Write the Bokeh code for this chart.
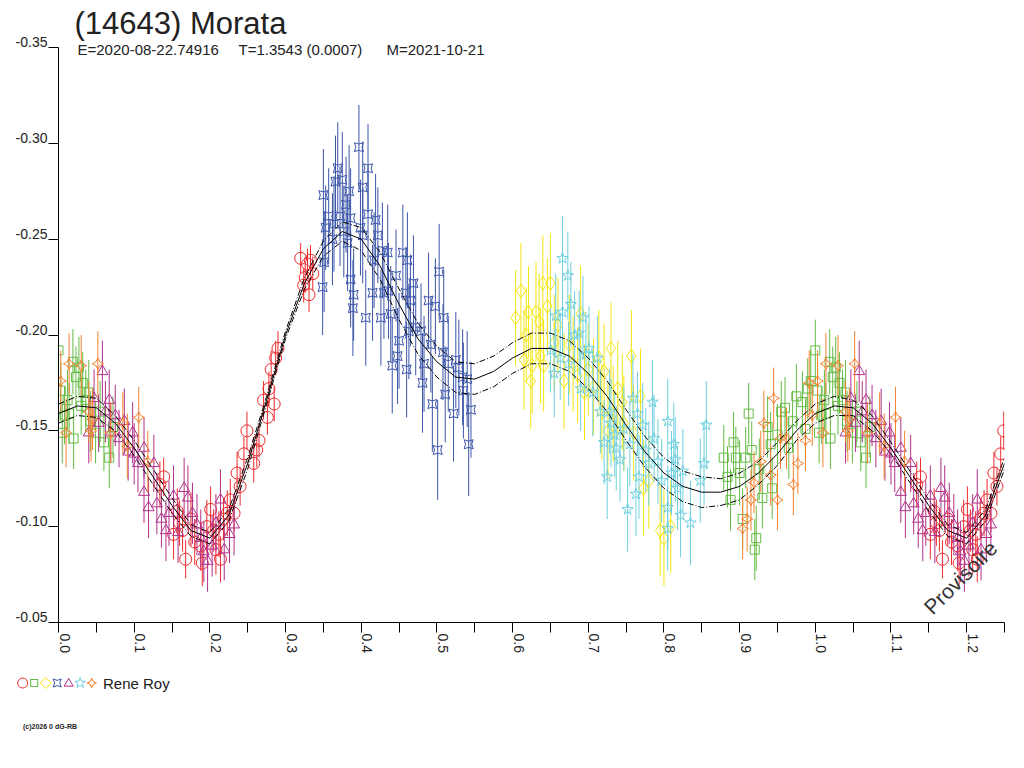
import math
import numpy as np
from bokeh.plotting import figure
from bokeh.models import (Range1d, FixedTicker, NumeralTickFormatter, CustomJSTickFormatter,
                          Label, ColumnDataSource, LinearAxis, Div)
from bokeh.layouts import column
from bokeh.embed import file_html
from bokeh.resources import INLINE

FONT = "Liberation Sans"

# ---------------- texts ----------------
title_text = "(14643) Morata"
subtitle_parts = ["E=2020-08-22.74916", "T=1.3543 (0.0007)", "M=2021-10-21"]
observer = "Rene Roy"
copyright_text = "(c)2026 0 dG-RB"
stamp_text = "Provisoire"

# ---------------- axes ----------------
x_ticks = [0.0, 0.1, 0.2, 0.3, 0.4, 0.5, 0.6, 0.7, 0.8, 0.9, 1.0, 1.1, 1.2]
x_minor = [0.05, 0.15, 0.25, 0.35, 0.45, 0.55, 0.65, 0.75, 0.85, 0.95, 1.05, 1.15, 1.25]
y_ticks = [-0.35, -0.30, -0.25, -0.20, -0.15, -0.10, -0.05]

# ---------------- fitted curve ----------------
fit_phase = [0.000, 0.025, 0.050, 0.075, 0.100, 0.125, 0.150, 0.175, 0.200, 0.225,
             0.250, 0.275, 0.300, 0.325, 0.350, 0.375, 0.400, 0.425, 0.450, 0.475,
             0.500, 0.525, 0.550, 0.575, 0.600, 0.625, 0.650, 0.675, 0.700, 0.725,
             0.750, 0.775, 0.800, 0.825, 0.850, 0.875, 0.900, 0.925, 0.950, 0.975,
             1.000, 1.025, 1.050, 1.075, 1.100, 1.125, 1.150, 1.175, 1.200, 1.225, 1.250]
fit_mag = [-0.159, -0.163, -0.162, -0.154, -0.141, -0.126, -0.111, -0.098, -0.094, -0.106,
           -0.133, -0.166, -0.200, -0.227, -0.245, -0.254, -0.250, -0.236, -0.216, -0.198,
           -0.186, -0.178, -0.177, -0.181, -0.188, -0.193, -0.193, -0.189, -0.180, -0.168,
           -0.153, -0.139, -0.128, -0.121, -0.118, -0.118, -0.121, -0.128, -0.138, -0.150,
           -0.159, -0.163, -0.162, -0.154, -0.141, -0.126, -0.111, -0.098, -0.094, -0.106, -0.133]
fit_spread = [0.005, 0.005, 0.005, 0.004, 0.004, 0.004, 0.004, 0.003, 0.003, 0.003,
              0.003, 0.002, 0.002, 0.003, 0.004, 0.005, 0.006, 0.007, 0.008, 0.008,
              0.008, 0.008, 0.008, 0.008, 0.008, 0.008, 0.008, 0.008, 0.008, 0.008,
              0.008, 0.008, 0.008, 0.008, 0.008, 0.007, 0.007, 0.006, 0.006, 0.005,
              0.005, 0.005, 0.004, 0.004, 0.003, 0.003, 0.003, 0.003, 0.003, 0.003, 0.003]

# ---------------- observations (phase, mag, error) ----------------
red_x = [0.134, 0.139, 0.152, 0.157, 0.160, 0.164, 0.168, 0.175, 0.180, 0.188, 0.190, 0.196,
         0.201, 0.205, 0.208, 0.212, 0.214, 0.218, 0.223, 0.227, 0.232, 0.236, 0.240, 0.245,
         0.249, 0.258, 0.262, 0.265, 0.271, 0.276, 0.278, 0.281, 0.285, 0.287, 0.290,
         0.320, 0.324, 0.326, 0.329, 0.331, 0.333, 0.336]
red_y = [-0.122, -0.126, -0.096, -0.108, -0.102, -0.098, -0.083, -0.104, -0.092, -0.090, -0.081, -0.100,
         -0.109, -0.098, -0.088, -0.096, -0.083, -0.104, -0.107, -0.114, -0.107, -0.128, -0.121, -0.138,
         -0.150, -0.133, -0.140, -0.145, -0.166, -0.157, -0.172, -0.182, -0.164, -0.188, -0.193,
         -0.240, -0.226, -0.230, -0.237, -0.221, -0.239, -0.232]
red_e = [0.012, 0.010, 0.013, 0.012, 0.012, 0.011, 0.010, 0.014, 0.012, 0.013, 0.012, 0.014,
         0.012, 0.011, 0.013, 0.012, 0.012, 0.011, 0.012, 0.011, 0.010, 0.011, 0.010, 0.009,
         0.010, 0.010, 0.009, 0.009, 0.010, 0.009, 0.009, 0.010, 0.009, 0.009, 0.009,
         0.008, 0.009, 0.008, 0.008, 0.009, 0.008, 0.009]

green_x = [0.000, 0.003, 0.005, 0.008, 0.012, 0.014, 0.019, 0.020, 0.023, 0.027, 0.030, 0.032,
           0.036, 0.040, 0.042, 0.049, 0.055, 0.060, 0.067, 0.072,
           0.879, 0.884, 0.888, 0.892, 0.895, 0.900, 0.904, 0.908, 0.912, 0.916, 0.920, 0.922,
           0.926, 0.930, 0.937, 0.941, 0.943, 0.950, 0.955, 0.960, 0.965, 0.970, 0.975, 0.983,
           0.987, 0.990, 0.994]
green_y = [-0.192, -0.171, -0.149, -0.158, -0.166, -0.159, -0.186, -0.146, -0.178, -0.183, -0.163, -0.175,
           -0.166, -0.170, -0.155, -0.149, -0.160, -0.144, -0.136, -0.152,
           -0.136, -0.126, -0.114, -0.144, -0.136, -0.128, -0.104, -0.136, -0.159, -0.140, -0.088, -0.094,
           -0.130, -0.115, -0.152, -0.143, -0.120, -0.148, -0.160, -0.162, -0.141, -0.155, -0.168, -0.165,
           -0.151, -0.172, -0.176]
green_e = [0.016, 0.015, 0.016, 0.015, 0.016, 0.016, 0.017, 0.016, 0.016, 0.016, 0.015, 0.016,
           0.016, 0.017, 0.016, 0.016, 0.016, 0.015, 0.016, 0.016,
           0.017, 0.016, 0.016, 0.016, 0.016, 0.017, 0.016, 0.016, 0.016, 0.015, 0.016, 0.017,
           0.016, 0.016, 0.016, 0.017, 0.016, 0.016, 0.016, 0.016, 0.016, 0.016, 0.017, 0.016,
           0.016, 0.016, 0.016]

yellow_x = [0.604, 0.611, 0.615, 0.618, 0.621, 0.624, 0.626, 0.631, 0.635, 0.637, 0.640, 0.641,
            0.646, 0.650, 0.655, 0.660, 0.668, 0.675, 0.680, 0.686, 0.690, 0.695, 0.700, 0.707,
            0.714, 0.718, 0.721, 0.726, 0.730, 0.733, 0.739, 0.745, 0.747, 0.757, 0.760, 0.769,
            0.773, 0.780, 0.795, 0.800, 0.809]
yellow_y = [-0.209, -0.223, -0.187, -0.200, -0.212, -0.176, -0.184, -0.212, -0.207, -0.189, -0.227, -0.184,
            -0.215, -0.227, -0.196, -0.205, -0.176, -0.195, -0.185, -0.179, -0.211, -0.170, -0.182, -0.173,
            -0.188, -0.160, -0.181, -0.150, -0.193, -0.159, -0.172, -0.165, -0.154, -0.189, -0.149, -0.168,
            -0.120, -0.124, -0.098, -0.094, -0.100]
yellow_e = [0.025, 0.025, 0.026, 0.025, 0.024, 0.025, 0.025, 0.026, 0.025, 0.025, 0.025, 0.024,
            0.025, 0.026, 0.025, 0.025, 0.025, 0.026, 0.025, 0.025, 0.025, 0.025, 0.024, 0.025,
            0.025, 0.025, 0.025, 0.025, 0.024, 0.025, 0.025, 0.025, 0.025, 0.024, 0.025, 0.025,
            0.025, 0.025, 0.024, 0.025, 0.024]

blue_x = [0.349, 0.350, 0.351, 0.353, 0.357, 0.362, 0.364, 0.366, 0.369, 0.372, 0.375, 0.377,
          0.380, 0.382, 0.384, 0.386, 0.386, 0.389, 0.390, 0.397, 0.399, 0.402, 0.402, 0.406,
          0.409, 0.409, 0.415, 0.417, 0.419, 0.422, 0.426, 0.428, 0.430, 0.435, 0.436, 0.439,
          0.441, 0.446, 0.448, 0.450, 0.455, 0.459, 0.460, 0.461, 0.463, 0.465, 0.469, 0.472,
          0.479, 0.481, 0.483, 0.489, 0.492, 0.494, 0.498, 0.501, 0.503, 0.508, 0.509, 0.511,
          0.515, 0.522, 0.525, 0.529, 0.534, 0.535, 0.540, 0.542, 0.545]
blue_y = [-0.225, -0.273, -0.238, -0.256, -0.262, -0.250, -0.258, -0.280, -0.287, -0.262, -0.281, -0.254,
          -0.268, -0.248, -0.275, -0.261, -0.229, -0.214, -0.221, -0.298, -0.256, -0.277, -0.252, -0.209,
          -0.287, -0.263, -0.222, -0.239, -0.260, -0.252, -0.209, -0.244, -0.222, -0.243, -0.223, -0.211,
          -0.184, -0.231, -0.189, -0.197, -0.243, -0.222, -0.182, -0.239, -0.202, -0.218, -0.227, -0.204,
          -0.202, -0.175, -0.185, -0.218, -0.195, -0.164, -0.215, -0.140, -0.233, -0.191, -0.209, -0.169,
          -0.185, -0.159, -0.187, -0.183, -0.178, -0.171, -0.177, -0.143, -0.161]
blue_e = [0.025, 0.024, 0.026, 0.022, 0.025, 0.024, 0.025, 0.024, 0.024, 0.026, 0.025, 0.024,
          0.025, 0.025, 0.024, 0.026, 0.025, 0.025, 0.024, 0.022, 0.025, 0.024, 0.025, 0.025,
          0.023, 0.025, 0.025, 0.025, 0.024, 0.025, 0.025, 0.025, 0.024, 0.025, 0.025, 0.025,
          0.025, 0.024, 0.025, 0.025, 0.025, 0.024, 0.025, 0.025, 0.025, 0.024, 0.025, 0.025,
          0.025, 0.026, 0.025, 0.025, 0.025, 0.025, 0.025, 0.026, 0.025, 0.025, 0.025, 0.025,
          0.025, 0.025, 0.025, 0.025, 0.025, 0.025, 0.025, 0.027, 0.025]

purple_x = [0.040, 0.047, 0.053, 0.058, 0.062, 0.067, 0.069, 0.075, 0.080, 0.087, 0.092, 0.098,
            0.100, 0.105, 0.113, 0.113, 0.119, 0.126, 0.130, 0.136, 0.142, 0.146, 0.152, 0.158,
            0.166, 0.171, 0.177, 0.183, 0.188, 0.192, 0.197, 0.203, 0.208, 0.214, 0.219, 0.226, 0.232]
purple_y = [-0.149, -0.167, -0.154, -0.181, -0.160, -0.166, -0.149, -0.158, -0.146, -0.155, -0.139, -0.149,
            -0.138, -0.133, -0.141, -0.118, -0.110, -0.133, -0.112, -0.104, -0.098, -0.107, -0.116, -0.097,
            -0.120, -0.115, -0.107, -0.101, -0.094, -0.087, -0.082, -0.090, -0.102, -0.114, -0.088, -0.096, -0.101]
purple_e = [0.016, 0.015, 0.015, 0.016, 0.016, 0.016, 0.015, 0.016, 0.015, 0.017, 0.015, 0.016,
            0.016, 0.015, 0.016, 0.016, 0.016, 0.015, 0.016, 0.015, 0.016, 0.017, 0.016, 0.016,
            0.016, 0.017, 0.016, 0.016, 0.015, 0.016, 0.016, 0.016, 0.015, 0.016, 0.016, 0.015, 0.016]

cyan_x = [0.650, 0.655, 0.657, 0.663, 0.666, 0.666, 0.673, 0.674, 0.677, 0.682, 0.688, 0.690,
          0.693, 0.697, 0.701, 0.706, 0.712, 0.716, 0.721, 0.725, 0.728, 0.730, 0.735, 0.737,
          0.742, 0.747, 0.752, 0.755, 0.759, 0.763, 0.765, 0.767, 0.772, 0.776, 0.780, 0.785,
          0.787, 0.792, 0.797, 0.805, 0.805, 0.805, 0.810, 0.813, 0.815, 0.818, 0.822, 0.825,
          0.835, 0.848, 0.853, 0.856]
cyan_y = [-0.192, -0.180, -0.210, -0.188, -0.212, -0.240, -0.231, -0.185, -0.216, -0.200, -0.201, -0.172,
          -0.209, -0.190, -0.193, -0.170, -0.188, -0.160, -0.144, -0.126, -0.160, -0.154, -0.148, -0.141,
          -0.135, -0.151, -0.109, -0.143, -0.167, -0.117, -0.159, -0.126, -0.153, -0.140, -0.133, -0.165,
          -0.146, -0.134, -0.124, -0.155, -0.110, -0.099, -0.128, -0.143, -0.135, -0.120, -0.106, -0.129,
          -0.102, -0.124, -0.133, -0.153]
cyan_e = [0.022, 0.023, 0.022, 0.022, 0.022, 0.022, 0.023, 0.022, 0.022, 0.023, 0.022, 0.022,
          0.022, 0.022, 0.022, 0.023, 0.022, 0.022, 0.022, 0.022, 0.022, 0.023, 0.022, 0.022,
          0.022, 0.022, 0.022, 0.022, 0.023, 0.022, 0.022, 0.022, 0.022, 0.022, 0.022, 0.022,
          0.023, 0.022, 0.022, 0.022, 0.022, 0.022, 0.022, 0.022, 0.022, 0.022, 0.022, 0.022,
          0.022, 0.022, 0.022, 0.023]

orange_x = [0.003, 0.010, 0.014, 0.030, 0.040, 0.043, 0.045, 0.052, 0.069, 0.085, 0.091, 0.106, 0.118,
            0.904, 0.910, 0.915, 0.919, 0.928, 0.932, 0.941, 0.945, 0.950, 0.954, 0.962, 0.971,
            0.977, 0.987, 0.992, 0.996]
orange_y = [-0.176, -0.149, -0.185, -0.184, -0.160, -0.150, -0.156, -0.185, -0.149, -0.154, -0.142, -0.157, -0.134,
            -0.099, -0.104, -0.114, -0.123, -0.134, -0.154, -0.127, -0.167, -0.114, -0.146, -0.146, -0.122,
            -0.133, -0.145, -0.175, -0.158]
orange_e = [0.016, 0.018, 0.016, 0.016, 0.016, 0.016, 0.016, 0.017, 0.016, 0.016, 0.017, 0.016, 0.016,
            0.016, 0.017, 0.016, 0.016, 0.016, 0.017, 0.016, 0.016, 0.016, 0.016, 0.016, 0.016,
            0.016, 0.016, 0.017, 0.016]

# ---------------- styles ----------------
series = [
    dict(x=red_x, y=red_y, e=red_e, color="#ee2a2e", marker="circle", size=12, angle=0.0, icon=10),
    dict(x=green_x, y=green_y, e=green_e, color="#64bb45", marker="square", size=9, angle=0.0, icon=7),
    dict(x=yellow_x, y=yellow_y, e=yellow_e, color="#f4e611", marker="diamond", size=14, angle=0.0, icon=11),
    dict(x=blue_x, y=blue_y, e=blue_e, color="#3b55a8", marker="square_pin", size=9, angle=0.0, icon=8),
    dict(x=purple_x, y=purple_y, e=purple_e, color="#b0318a", marker="triangle", size=11, angle=0.0, icon=9),
    dict(x=cyan_x, y=cyan_y, e=cyan_e, color="#6fcfdf", marker="star", size=12, angle=0.0, icon=11),
    dict(x=orange_x, y=orange_y, e=orange_e, color="#f58230", marker="square_pin", size=8,
         angle=math.pi / 4, icon=7),
]

# ---------------- layout geometry (pixels) ----------------
FIG_W, FIG_H = 1016, 660
FRAME_L, FRAME_R = 58, 12
FRAME_BOTTOM_PAD = 38
HEAD_PX = 47                  # header space kept inside the frame above -0.35
AXIS_PX = 575                 # pixel height of the -0.35 .. -0.05 axis

X_START, X_END = 0.0, 1.25
Y_BOTTOM, Y_TOP = -0.05, -0.35
units_per_px = (Y_BOTTOM - Y_TOP) / AXIS_PX
y_frame_top = Y_TOP - HEAD_PX * units_per_px
x_units_per_px = (X_END - X_START) / (FIG_W - FRAME_L - FRAME_R)

p = figure(width=FIG_W, height=FIG_H, output_backend="svg", toolbar_location=None,
           x_range=Range1d(X_START, X_END), y_range=Range1d(Y_BOTTOM, y_frame_top),
           min_border_left=FRAME_L, min_border_right=FRAME_R, min_border_top=0,
           min_border_bottom=FRAME_BOTTOM_PAD,
           outline_line_color=None, background_fill_color="white", border_fill_color="white")
p.grid.visible = False

for s in series:
    x = np.array(s["x"]); y = np.array(s["y"]); e = np.array(s["e"])
    m = x < (X_END - 1.0)
    # phase-folded chart repeats the first quarter cycle after phase 1.0
    x = np.concatenate([x, x[m] + 1.0]); y = np.concatenate([y, y[m]]); e = np.concatenate([e, e[m]])
    src = ColumnDataSource(dict(x=x, y=y, lo=y - e, hi=y + e))
    p.segment(x0="x", y0="lo", x1="x", y1="hi", source=src, line_color=s["color"], line_width=1)
    p.scatter(x="x", y="y", source=src, marker=s["marker"], size=s["size"], angle=s["angle"],
              fill_color=None, line_color=s["color"], line_width=1)

fx = np.array(fit_phase); fm = np.array(fit_mag); fs = np.array(fit_spread)
p.line(fx, fm - fs, line_color="black", line_width=1, line_dash="6 2 1 2")
p.line(fx, fm + fs, line_color="black", line_width=1, line_dash="6 2 1 2")
p.line(fx, fm, line_color="black", line_width=1)

blank = CustomJSTickFormatter(code="return ''")

# axes with lines and tick marks
for ax in (p.xaxis[0], p.yaxis[0]):
    ax.axis_line_color = "black"
    ax.major_tick_line_color = "black"
    ax.minor_tick_line_color = "black"
    ax.major_tick_in = 0
    ax.major_tick_out = 10
    ax.minor_tick_in = 0
    ax.major_label_standoff = 0
    ax.formatter = blank
    ax.major_label_text_font_size = "1px"
p.xaxis[0].ticker = FixedTicker(ticks=x_ticks, minor_ticks=x_minor)
p.xaxis[0].minor_tick_out = 10
p.xaxis[0].bounds = (X_START, X_END)
p.yaxis[0].ticker = FixedTicker(ticks=y_ticks, minor_ticks=[])
p.yaxis[0].minor_tick_out = 0
p.yaxis[0].bounds = (Y_TOP, Y_BOTTOM)

# label-only axes: labels sit beside the tick (baseline on the y tick, right of the x tick)
y_lab_shift = 5.5 * units_per_px
ylab = LinearAxis(ticker=FixedTicker(ticks=[t - y_lab_shift for t in y_ticks], minor_ticks=[]),
                  formatter=NumeralTickFormatter(format="0.00"),
                  axis_line_color=None, major_tick_line_color=None, minor_tick_line_color=None,
                  major_tick_out=0, major_tick_in=0, minor_tick_out=0, minor_tick_in=0,
                  major_label_standoff=1, major_label_text_font=FONT,
                  major_label_text_font_size="14px", major_label_text_color="#222222")
p.add_layout(ylab, "left")

x_lab_shift = 6 * x_units_per_px
xlab = LinearAxis(ticker=FixedTicker(ticks=[t + x_lab_shift for t in x_ticks], minor_ticks=[]),
                  formatter=NumeralTickFormatter(format="0.0"),
                  axis_line_color=None, major_tick_line_color=None, minor_tick_line_color=None,
                  major_tick_out=0, major_tick_in=0, minor_tick_out=0, minor_tick_in=0,
                  major_label_standoff=1, major_label_orientation=-math.pi / 2,
                  major_label_text_font=FONT, major_label_text_font_size="14px",
                  major_label_text_color="#222222")
p.add_layout(xlab, "below")

# title and info line (inside the frame, above the -0.35 end of the axis)
p.add_layout(Label(x=X_START + 16 * x_units_per_px, y=Y_TOP - 24.5 * units_per_px, text=title_text,
                   text_font=FONT, text_font_size="31px", text_color="#222222",
                   text_align="left", text_baseline="alphabetic"))
for px_off, t in zip([19, 180, 328], subtitle_parts):
    p.add_layout(Label(x=X_START + px_off * x_units_per_px, y=Y_TOP + 1.5 * units_per_px, text=t,
                       text_font=FONT, text_font_size="15px", text_color="#222222",
                       text_align="left", text_baseline="alphabetic"))
p.add_layout(Label(x=X_START + 869 * x_units_per_px, y=Y_BOTTOM - 12 * units_per_px, text=stamp_text,
                   angle=math.pi / 4, text_font=FONT, text_font_size="21px", text_color="#333333",
                   text_align="left", text_baseline="alphabetic"))

# ---------------- legend strip (below the chart) ----------------
def legend_icon(kind, angle, cx, cy, size, color):
    r = size / 2.0
    st = f'fill="none" stroke="{color}" stroke-width="1"'
    if kind == "circle":
        return f'<circle cx="{cx}" cy="{cy}" r="{r}" {st}/>'
    if kind == "square":
        return f'<rect x="{cx - r}" y="{cy - r}" width="{size}" height="{size}" {st}/>'
    if kind == "diamond":
        return f'<polygon points="{cx},{cy - r} {cx + r},{cy} {cx},{cy + r} {cx - r},{cy}" {st}/>'
    if kind == "triangle":
        h = size * 0.87
        return (f'<polygon points="{cx},{cy - h * 0.6} {cx + r},{cy + h * 0.4} '
                f'{cx - r},{cy + h * 0.4}" {st}/>')
    if kind == "star":
        pts = []
        for k in range(10):
            rr = r if k % 2 == 0 else r * 0.42
            a = -math.pi / 2 + k * math.pi / 5
            pts.append(f"{cx + rr * math.cos(a):.2f},{cy + rr * math.sin(a):.2f}")
        return f'<polygon points="{" ".join(pts)}" {st}/>'
    # square_pin (possibly rotated)
    c = 0.3 * r
    d = (f"M{-r},{-r} Q0,{-c} {r},{-r} Q{c},0 {r},{r} Q0,{c} {-r},{r} Q{-c},0 {-r},{-r} Z")
    deg = -math.degrees(angle)
    return f'<path d="{d}" transform="translate({cx},{cy}) rotate({deg})" {st}/>'

icons = "".join(legend_icon(s["marker"], s["angle"], 22.7 + 11.5 * i, 23, s["icon"], s["color"])
                for i, s in enumerate(series))
strip_html = (
    '<div style="position:relative;width:1016px;height:100px;margin:0;padding:0;">'
    f'<svg width="110" height="40" style="position:absolute;left:0;top:0;">{icons}</svg>'
    f'<div style="position:absolute;left:103px;top:16px;font-family:\'{FONT}\';font-size:15px;'
    f'line-height:15px;color:#222;white-space:nowrap;">{observer}</div>'
    f'<div style="position:absolute;left:23px;top:63px;font-family:\'{FONT}\';font-size:7px;'
    f'font-weight:bold;line-height:7px;color:#222;white-space:nowrap;">{copyright_text}</div>'
    '</div>'
)
strip = Div(text=strip_html, width=1016, height=100, margin=0)

layout = column(p, strip, spacing=0)
open("out.html", "w").write(file_html(layout, INLINE))
